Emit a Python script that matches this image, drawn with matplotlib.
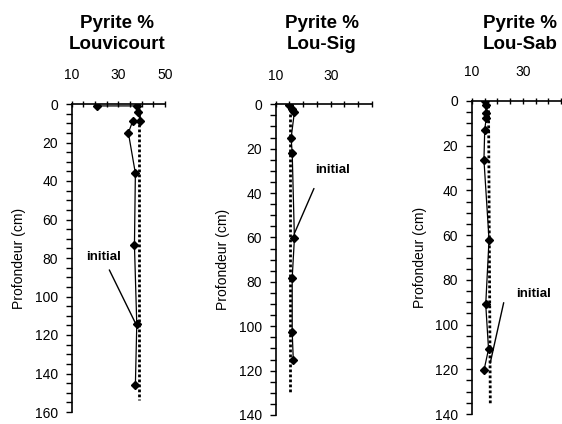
import matplotlib
matplotlib.use("Agg")
import matplotlib.pyplot as plt
from matplotlib.ticker import MultipleLocator

plt.rcParams['font.family'] = ['Liberation Sans', 'DejaVu Sans']

# measured pyrite profiles (pct, depth in cm)
lou_pct = [21.0, 38.1, 38.6, 39.4, 36.1, 34.3, 37.3, 36.9, 37.9, 37.3]
lou_depth = [1, 1, 4, 9, 9, 15, 36, 73.5, 114.5, 146]
lou_init_pct = [39.0, 39.0]
lou_init_depth = [0, 154]

sig_pct = [14.8, 15.8, 16.8, 15.6, 16.0, 16.8, 16.0, 16.0, 16.4]
sig_depth = [0.3, 2, 3.4, 15.3, 22, 60.4, 78.2, 102.8, 115.4]
sig_init_pct = [15.2, 15.2]
sig_init_depth = [0, 130.6]

sab_pct = [15.0, 15.6, 15.4, 15.6, 15.0, 14.7, 16.7, 15.4, 16.5, 14.7]
sab_depth = [0, 2, 5.5, 7.7, 12.8, 26.4, 62, 91, 111, 120.5]
sab_init_pct = [16.5, 17.2]
sab_init_depth = [2, 136]

titles = ['Pyrite %\nLouvicourt', 'Pyrite %\nLou-Sig', 'Pyrite %\nLou-Sab']

W, H = 562, 424
fig = plt.figure(figsize=(W / 100, H / 100), dpi=100)


def px_axes(left, right, top, bottom):
    return fig.add_axes([left / W, 1 - bottom / H, (right - left) / W, (bottom - top) / H])


def style(ax, xmax, ymax, xticks):
    ax.set_xlim(10, xmax)
    ax.set_ylim(ymax, 0)
    ax.xaxis.set_ticks_position('top')
    ax.xaxis.set_label_position('top')
    ax.spines['right'].set_visible(False)
    ax.spines['bottom'].set_visible(False)
    for s in ['top', 'left']:
        ax.spines[s].set_linewidth(1.2)
    ax.set_xticks(xticks)
    ax.xaxis.set_minor_locator(MultipleLocator(5))
    ax.yaxis.set_major_locator(MultipleLocator(20))
    ax.yaxis.set_minor_locator(MultipleLocator(5))
    ax.tick_params(axis='x', which='both', direction='inout', length=5, width=1, labelsize=10, pad=13)
    ax.tick_params(axis='y', which='both', direction='out', length=4, width=1, labelsize=10, pad=6)
    ax.set_ylabel('Profondeur (cm)', fontsize=10, labelpad=6)


def draw(ax, pct, depth, ipct, idepth):
    ax.plot(ipct, idepth, color='black', lw=2, linestyle=(0, (1, 0.8)))
    ax.plot(pct, depth, color='black', lw=0.9, marker='D', markersize=4.5)


ax1 = px_axes(71.7, 165, 104, 412)
draw(ax1, lou_pct, lou_depth, lou_init_pct, lou_init_depth)
style(ax1, 50, 160, [10, 30, 50])
ax1.text(23.6, 79.7, 'initial', fontsize=9.5, fontweight='bold', ha='center', va='center')
ax1.annotate('', xy=(38.0, 115.5), xytext=(25.6, 84.9),
             arrowprops=dict(arrowstyle='-', color='black', lw=1))

ax2 = px_axes(275.7, 372, 104.3, 415)
draw(ax2, sig_pct, sig_depth, sig_init_pct, sig_init_depth)
style(ax2, 45, 140, [10, 30])
ax2.text(30.7, 29.8, 'initial', fontsize=9.5, fontweight='bold', ha='center', va='center')
ax2.annotate('', xy=(16.4, 59.3), xytext=(24.3, 36.8),
             arrowprops=dict(arrowstyle='-', color='black', lw=1))

ax3 = px_axes(472, 561, 101, 414)
draw(ax3, sab_pct, sab_depth, sab_init_pct, sab_init_depth)
style(ax3, 45, 140, [10, 30])
ax3.text(34.2, 86.5, 'initial', fontsize=9.5, fontweight='bold', ha='center', va='center')
ax3.annotate('', xy=(16.9, 118.5), xytext=(22.7, 89),
             arrowprops=dict(arrowstyle='-', color='black', lw=1))

for cx, t in zip([117, 322, 520], titles):
    fig.text(cx / W, 1 - 34 / H, t, ha='center', va='center', fontsize=13.5,
             fontweight='bold', linespacing=1.35)

fig.savefig('out.png', dpi=100)
